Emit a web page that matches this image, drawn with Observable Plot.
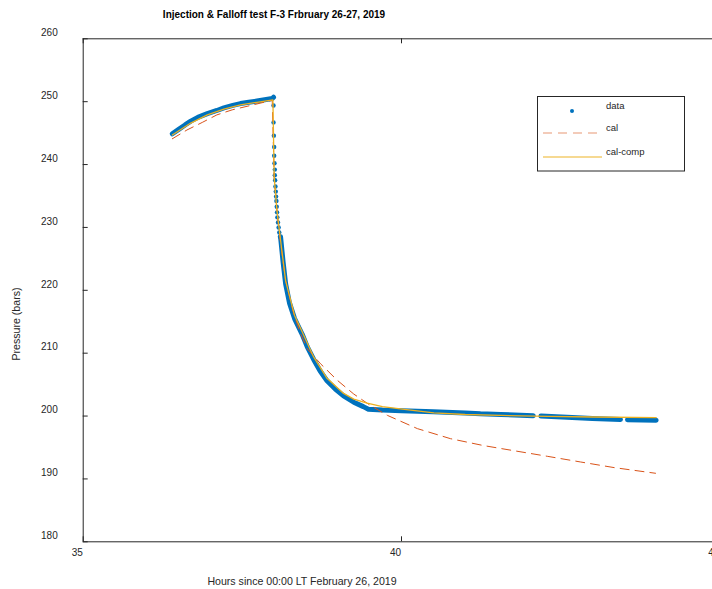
<!DOCTYPE html>
<html>
<head>
<meta charset="utf-8">
<script src="https://cdn.jsdelivr.net/npm/d3@7"></script>
<script src="https://cdn.jsdelivr.net/npm/@observablehq/plot@0.6"></script>
<style>
  html, body { margin: 0; padding: 0; background: #fff; }
  #wrap { position: relative; width: 712px; height: 589px; overflow: hidden; font-family: "Liberation Sans", Arial, Helvetica, sans-serif; }
  #wrap svg.plot { position: absolute; left: 0; top: 0; }
  .lbl { position: absolute; white-space: nowrap; line-height: 1; color: #262626; }
</style>
</head>
<body>
<div id="wrap"></div>
<script>
// ---- data ----
const titleText = "Injection & Falloff test F-3 Frbruary 26-27, 2019";
const xLabelText = "Hours since 00:00 LT February 26, 2019";
const yLabelText = "Pressure (bars)";
const xTicks = [35, 40, 45];
const yTicks = [180, 190, 200, 210, 220, 230, 240, 250, 260];

// measured data: injection period (dense markers)
const injT = [36.40, 36.50, 36.60, 36.69, 36.80, 36.95, 37.10, 37.21, 37.35, 37.47, 37.60, 37.73, 37.85, 37.97, 37.99];
const injP = [244.9, 245.6, 246.3, 246.9, 247.5, 248.1, 248.6, 249.0, 249.4, 249.7, 249.9, 250.1, 250.3, 250.5, 250.7];
// measured data: shut-in drop (sparse markers)
const dropT = [37.99, 37.99, 37.995, 38.0, 38.0, 38.005, 38.01, 38.01, 38.015, 38.02, 38.025, 38.03, 38.035, 38.04, 38.045, 38.05, 38.06, 38.07, 38.08, 38.09];
const dropP = [249.4, 246.7, 244.6, 242.8, 241.4, 240.2, 239.2, 238.3, 237.5, 236.5, 235.7, 234.9, 234.2, 233.3, 232.4, 231.6, 230.8, 230.0, 229.2, 228.5];
// measured data: falloff (dense markers, NaN = gap in record)
const fallT = [38.10, 38.14, 38.18, 38.24, 38.32, 38.44, 38.52, 38.62, 38.72, 38.83, 38.96, 39.09, 39.25, 39.40, 39.48, 39.70, 40.00, 40.50, 41.00, 41.24, 41.56, 42.07, 42.12, 42.19, 42.60, 43.00, 43.44, 43.50, 43.55, 44.00];
const fallP = [228.5, 224.5, 221.0, 218.0, 215.5, 213.0, 211.0, 209.0, 207.2, 205.6, 204.3, 203.2, 202.2, 201.5, 201.1, 200.95, 200.85, 200.7, 200.5, 200.36, 200.25, 200.05, NaN, 200.0, 199.82, 199.62, 199.45, NaN, 199.4, 199.35];

// model "cal"
const calT = [36.40, 36.63, 36.87, 37.10, 37.34, 37.63, 37.92, 37.97, 38.00, 38.05, 38.10, 38.18, 38.30, 38.41, 38.52, 38.73, 38.99, 39.25, 39.51, 39.78, 40.25, 40.77, 41.29, 41.76, 42.29, 42.81, 43.34, 43.99];
const calP = [244.1, 245.5, 246.7, 247.9, 248.7, 249.4, 250.1, 250.2, 238.0, 232.0, 227.5, 221.5, 216.5, 213.2, 210.7, 208.3, 205.7, 203.5, 201.7, 200.1, 198.0, 196.4, 195.3, 194.5, 193.6, 192.7, 191.8, 190.9];

// model "cal-comp"
const compT = [36.40, 36.69, 36.95, 37.21, 37.47, 37.73, 37.98, 38.00, 38.04, 38.10, 38.18, 38.32, 38.44, 38.62, 38.83, 39.09, 39.25, 39.46, 39.70, 39.98, 40.51, 41.00, 41.56, 42.30, 43.00, 44.00];
const compP = [244.7, 246.6, 247.9, 248.8, 249.5, 249.9, 250.3, 238.0, 233.0, 228.0, 221.5, 216.0, 213.4, 209.4, 206.0, 203.6, 202.7, 202.05, 201.5, 201.15, 200.5, 200.25, 200.1, 199.95, 199.85, 199.75];

const legendNames = ["data", "cal", "cal-comp"];
const colors = {data: "#0072BD", cal: "#D95319", comp: "#EDB120"};

// ---- layout ----
const W = 712, H = 589;
const mL = 82.7, mR = -7.3, mT = 38.3, mB = 47.7;
const innerW = W - mL - mR, innerH = H - mT - mB;
const axisColor = "#262626";

const plot = Plot.plot({
  width: W, height: H,
  marginLeft: mL, marginRight: mR, marginTop: mT, marginBottom: mB,
  x: {domain: [35, 45], axis: null},
  y: {domain: [180, 260], axis: null},
  style: {fontFamily: "'Liberation Sans', Arial, Helvetica, sans-serif", fontSize: "10px", background: "transparent"},
  marks: [
    Plot.frame({stroke: axisColor, strokeWidth: 1}),
    // inward tick marks
    Plot.ruleX(xTicks, {x: d => d, insetTop: innerH - 5, stroke: axisColor}),
    Plot.ruleX(xTicks, {x: d => d, insetBottom: innerH - 5, stroke: axisColor}),
    Plot.ruleY(yTicks, {y: d => d, insetRight: innerW - 5, stroke: axisColor}),
    Plot.ruleY(yTicks, {y: d => d, insetLeft: innerW - 5, stroke: axisColor}),
    // tick labels
    Plot.text(xTicks, {x: d => d, text: d => String(d), frameAnchor: "bottom", dx: -6, dy: 14, fill: axisColor}),
    Plot.text(yTicks, {y: d => d, text: d => String(d), frameAnchor: "left", textAnchor: "end", dx: -25.5, dy: -6, fill: axisColor}),
    // measured data
    Plot.line(injT, {x: injT, y: injP, stroke: colors.data, strokeWidth: 5, strokeLinecap: "round"}),
    Plot.dot(dropT, {x: dropT, y: dropP, r: 2.2, fill: colors.data, stroke: null}),
    Plot.line(fallT, {x: fallT, y: fallP, stroke: colors.data, strokeWidth: 5, strokeLinecap: "round", strokeLinejoin: "round"}),
    // model cal
    Plot.line(calT, {x: calT, y: calP, stroke: colors.cal, strokeWidth: 1, strokeDasharray: "9,6"}),
    // model cal-comp
    Plot.line(compT, {x: compT, y: compP, stroke: colors.comp, strokeWidth: 1.3})
  ]
});

const wrap = document.getElementById("wrap");
wrap.appendChild(plot);

function addLabel(text, cx, cy, size, extra) {
  const d = document.createElement("div");
  d.className = "lbl";
  d.textContent = text;
  d.style.fontSize = size + "px";
  d.style.left = cx + "px";
  d.style.top = cy + "px";
  d.style.transform = "translate(-50%, -50%)" + (extra || "");
  wrap.appendChild(d);
  return d;
}
const t = addLabel(titleText, 274, 15, 10, "");
t.style.fontWeight = "bold";
t.style.color = "#000";
addLabel(xLabelText, 302, 581, 10.6, "");
addLabel(yLabelText, 16, 324, 10.6, " rotate(-90deg)");

// legend
const lg = document.createElementNS("http://www.w3.org/2000/svg", "svg");
lg.setAttribute("width", 148);
lg.setAttribute("height", 76);
lg.style.position = "absolute";
lg.style.left = "537px";
lg.style.top = "96px";
lg.innerHTML = `
  <rect x="0.5" y="0.5" width="147" height="74.5" fill="#fff" stroke="${axisColor}" stroke-width="1"/>
  <circle cx="35" cy="15" r="2" fill="${colors.data}"/>
  <line x1="6" x2="63" y1="37" y2="37" stroke="${colors.cal}" stroke-opacity="0.6" stroke-width="1.2" stroke-dasharray="9,6"/>
  <line x1="6" x2="65" y1="61" y2="61" stroke="${colors.comp}" stroke-opacity="0.65" stroke-width="1.3"/>
  <g font-family="'Liberation Sans', Arial, sans-serif" font-size="9.5" fill="${axisColor}">
    <text x="69" y="9.7" dy="0.35em">${legendNames[0]}</text>
    <text x="69" y="32" dy="0.35em">${legendNames[1]}</text>
    <text x="69" y="55.7" dy="0.35em">${legendNames[2]}</text>
  </g>`;
wrap.appendChild(lg);
</script>
</body>
</html>
